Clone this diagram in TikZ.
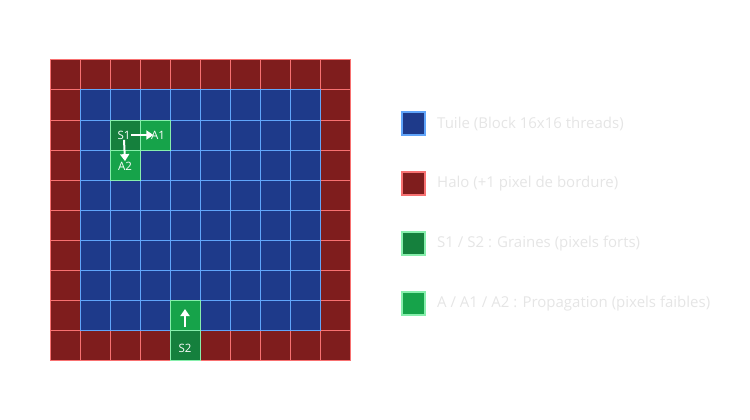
\documentclass[tikz,border=0pt]{standalone}
\usepackage{fontspec}
\setmainfont{Open Sans}
\usetikzlibrary{arrows.meta}
\definecolor{tileF}{HTML}{1E3A8A}
\definecolor{tileB}{HTML}{60A5FA}
\definecolor{haloF}{HTML}{7F1D1D}
\definecolor{haloB}{HTML}{F87171}
\definecolor{seedF}{HTML}{15803D}
\definecolor{propF}{HTML}{16A34A}
\definecolor{greenB}{HTML}{86EFAC}
\definecolor{legtxt}{HTML}{E5E5E5}
\begin{document}
\begin{tikzpicture}[x=1pt,y=-1pt,
  cellbox/.style={minimum size=30pt, inner sep=0pt, outer sep=0pt, line width=1pt, anchor=north west},
  halo/.style={cellbox, fill=haloF, draw=haloB},
  tile/.style={cellbox, fill=tileF, draw=tileB},
  seed/.style={cellbox, fill=seedF, draw=greenB},
  prop/.style={cellbox, fill=propF, draw=greenB},
  lbl/.style={text=white, font=\fontsize{11.5}{13}\selectfont, inner sep=0.5pt},
  warrow/.style={white, line width=2pt, -{Triangle[length=7pt,width=9pt]}},
  legsq/.style={minimum size=23pt, inner sep=0pt, line width=2pt, anchor=north west},
  legtext/.style={text=legtxt, font=\fontsize{15}{17}\selectfont, anchor=west, inner sep=0pt}
]
\useasboundingbox (0,0) rectangle (750,420);
\foreach \r in {0,...,9}{\foreach \c in {0,...,9}{
  \node[halo] (h-\r-\c) at (50+30*\c, 60+30*\r) {};}}
\foreach \r in {1,...,8}{\foreach \c in {1,...,8}{
  \node[tile] (t-\r-\c) at (50+30*\c, 60+30*\r) {};}}
\node[seed] (cs1) at (110,120) {};
\node[prop] (ca1) at (140,120) {};
\node[prop] (ca2) at (110,150) {};
\node[prop] (ca) at (170,300) {};
\node[seed] (cs2) at (170,330) {};

\node[lbl] (s1) at (124,135) {S1};
\node[lbl] (a1) at (158,135) {A1};
\node[lbl] (a2) at (125,166) {A2};
\node[lbl] (s2) at (185,348) {S2};
\draw[warrow] (s1.east) -- ([xshift=3pt]a1.west);
\draw[warrow] (s1.south) -- (a2.north);
\coordinate (upA) at (185,327);
\coordinate (upB) at (185,309);
\draw[warrow] (upA) -- (upB);

\node[legsq, fill=tileF, draw=tileB] (l1) at (401,111) {};
\node[legsq, fill=haloF, draw=haloB] (l2) at (401,171) {};
\node[legsq, fill=seedF, draw=greenB] (l3) at (401,231) {};
\node[legsq, fill=propF, draw=greenB] (l4) at (401,291) {};
\node[legtext] (t1) at (437,124) {Tuile (Block 16x16 threads)};
\node[legtext] (t2) at (437,184) {Halo (+1 pixel de bordure)};
\node[legtext] (t3) at (437,244) {S1 / S2 : Graines (pixels forts)};
\node[legtext] (t4) at (437,304) {A / A1 / A2 : Propagation (pixels faibles)};
\end{tikzpicture}
\end{document}
